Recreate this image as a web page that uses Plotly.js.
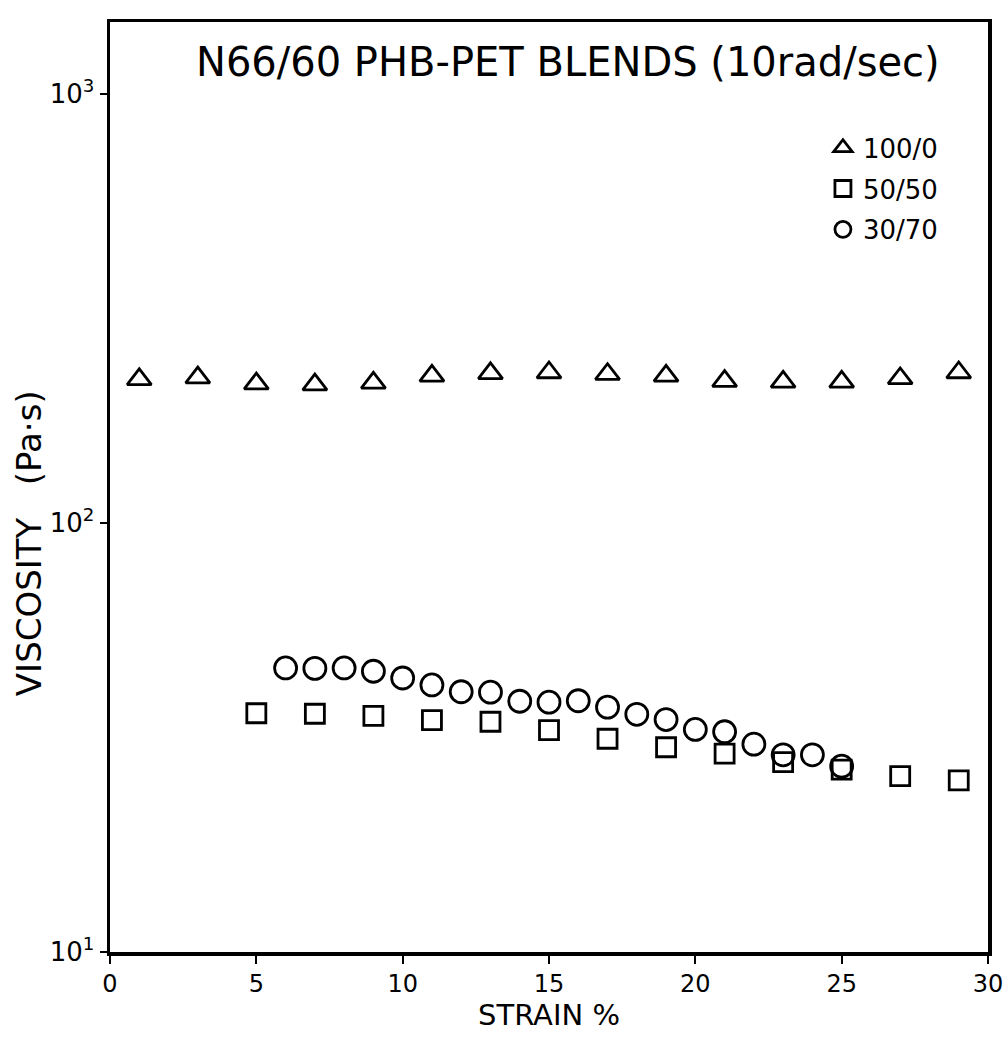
<!DOCTYPE html>
<html>
<head>
<meta charset="utf-8">
<script src="https://cdn.plot.ly/plotly-3.0.1.min.js"></script>
<style>
  html, body { margin: 0; padding: 0; background: #ffffff; }
  #chart { width: 1005px; height: 1040px; }
</style>
</head>
<body>
<div id="chart"></div>
<script>
// ---- data ----
const strain100 = [1, 3, 5, 7, 9, 11, 13, 15, 17, 19, 21, 23, 25, 27, 29];
const visc100   = [216, 218, 211, 210, 212, 220, 223, 224, 222, 220, 214, 213, 213, 217, 224];

const strain50  = [5, 7, 9, 11, 13, 15, 17, 19, 21, 23, 25, 27, 29];
const visc50    = [36.0, 35.9, 35.5, 34.7, 34.4, 32.9, 31.4, 30.0, 29.0, 27.7, 26.6, 25.7, 25.1];

const strain30  = [6, 7, 8, 9, 10, 11, 12, 13, 14, 15, 16, 17, 18, 19, 20, 21, 22, 23, 24, 25];
const visc30    = [45.9, 45.8, 45.9, 45.1, 43.5, 41.9, 40.4, 40.3, 38.4, 38.2, 38.5, 37.2, 35.8, 34.8, 33.0, 32.6, 30.5, 28.8, 28.8, 27.1];

const seriesNames = ['100/0', '50/50', '30/70'];
const xTickVals = [0, 5, 10, 15, 20, 25, 30];
const xTickText = ['0', '5', '10', '15', '20', '25', '30'];
const yTickVals = [10, 100, 1000];
const yTickText = ['10<sup>1</sup>', '10<sup>2</sup>', '10<sup>3</sup>'];

const titleText = 'N66/60 PHB-PET BLENDS (10rad/sec)';
const xTitle = 'STRAIN %';
const yTitle = 'VISCOSITY   (Pa·s)';

// ---- chart ----
const FONT = 'DejaVu Sans, Liberation Sans, sans-serif';
const ink = '#000000';

function markerStyle(symbol, size) {
  return { symbol: symbol, size: size, color: ink, line: { color: ink, width: 2.8 } };
}

const traces = [
  { x: strain100, y: visc100, name: seriesNames[0], mode: 'markers', type: 'scatter',
    legendgroup: 'a', marker: markerStyle('triangle-up-open', 21) },
  { x: strain50, y: visc50, name: seriesNames[1], mode: 'markers', type: 'scatter',
    legendgroup: 'b', marker: markerStyle('square-open', 19) },
  { x: strain30, y: visc30, name: seriesNames[2], mode: 'markers', type: 'scatter',
    legendgroup: 'c', marker: markerStyle('circle-open', 22) }
];

const layout = {
  width: 1005, height: 1040,
  paper_bgcolor: '#ffffff', plot_bgcolor: '#ffffff',
  margin: { l: 110, r: 17, t: 22, b: 88 },
  font: { family: FONT, color: ink, size: 22 },
  title: { text: titleText, font: { family: FONT, size: 40, color: ink },
           x: 0.565, xanchor: 'center', y: 0.94, yanchor: 'middle', xref: 'container', yref: 'container' },
  showlegend: true,
  legend: { x: 0.812, y: 0.89, xanchor: 'left', yanchor: 'top', bgcolor: 'rgba(0,0,0,0)',
            font: { family: FONT, size: 26, color: ink }, tracegroupgap: 4, itemsizing: 'trace' },
  xaxis: {
    type: 'linear', range: [0, 30], tickvals: xTickVals, ticktext: xTickText,
    ticks: 'outside', ticklen: 8, tickwidth: 2, tickcolor: ink, ticklabeloverflow: 'allow',
    showline: true, linecolor: ink, linewidth: 3.5, mirror: true,
    showgrid: false, zeroline: false,
    tickfont: { family: FONT, size: 24, color: ink },
    title: { text: xTitle, font: { family: FONT, size: 29, color: ink }, standoff: 0 }
  },
  yaxis: {
    type: 'log', range: [1, 3.167], tickvals: yTickVals, ticktext: yTickText,
    ticks: 'outside', ticklen: 7, tickwidth: 2, tickcolor: ink,
    showline: true, linecolor: ink, linewidth: 3.5, mirror: true,
    showgrid: false, zeroline: false,
    tickfont: { family: FONT, size: 26, color: ink }
  },
  annotations: [
    { text: yTitle, xref: 'paper', yref: 'paper', x: -0.093, y: 0.44, xanchor: 'center', yanchor: 'middle',
      textangle: -90, showarrow: false, font: { family: FONT, size: 34, color: ink } }
  ]
};

Plotly.newPlot('chart', traces, layout, { displayModeBar: false, staticPlot: true });
</script>
</body>
</html>
